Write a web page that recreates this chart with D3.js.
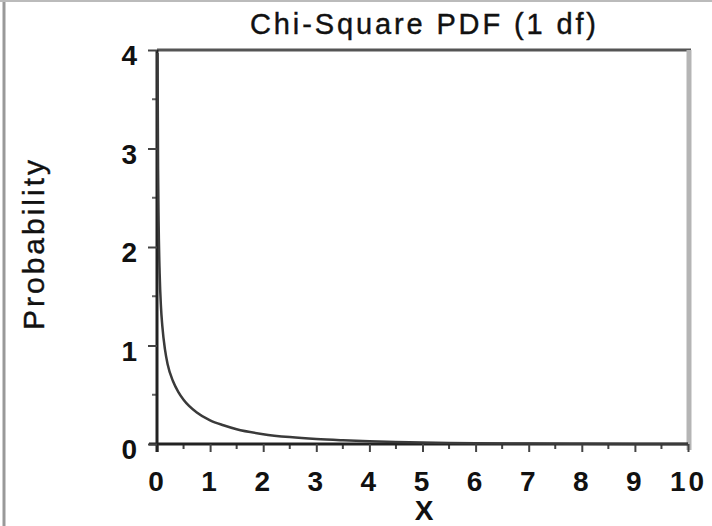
<!DOCTYPE html>
<html>
<head>
<meta charset="utf-8">
<script src="https://cdn.jsdelivr.net/npm/d3@7"></script>
<style>
  body { margin: 0; background: #fff; }
  svg { display: block; font-family: "Liberation Sans", Arial, sans-serif; }
</style>
</head>
<body>
<svg id="chart" width="712" height="526"></svg>
<script>
// values
const xValues = [0.01, 0.02, 0.03, 0.05, 0.075, 0.1, 0.15, 0.2, 0.3, 0.4, 0.5, 0.75, 1, 1.25, 1.5, 2, 2.5, 3, 3.5, 4, 4.5, 5, 5.5, 6, 7, 8, 9, 10];
const yValues = [3.97, 2.8, 2.27, 1.73, 1.39, 1.2, 0.96, 0.81, 0.64, 0.53, 0.45, 0.32, 0.24, 0.19, 0.15, 0.10, 0.07, 0.05, 0.037, 0.027, 0.02, 0.015, 0.011, 0.008, 0.004, 0.002, 0.001, 0.0009];
const xTicks = [0, 1, 2, 3, 4, 5, 6, 7, 8, 9, 10];
const yTicks = [0, 1, 2, 3, 4];
const titleText = "Chi-Square PDF (1 df)";
const xLabel = "X";
const yLabel = "Probability";

const svg = d3.select("#chart");
const plotLeft = 157, plotRight = 688, plotTop = 50, plotBottom = 444;

const x = d3.scaleLinear().domain([0, 10]).range([plotLeft, plotRight]);
const y = d3.scaleLinear().domain([0, 4]).range([plotBottom, plotTop]);

// outer border of the figure
svg.append("line").attr("x1", 4).attr("x2", 4).attr("y1", 0).attr("y2", 526)
   .attr("stroke", "#999").attr("stroke-width", 3);
svg.append("line").attr("x1", 0).attr("x2", 712).attr("y1", 1).attr("y2", 1)
   .attr("stroke", "#bbb").attr("stroke-width", 2);

// frame: top and right
svg.append("line").attr("x1", plotLeft).attr("x2", plotRight + 3).attr("y1", plotTop).attr("y2", plotTop)
   .attr("stroke", "#555").attr("stroke-width", 3);
svg.append("line").attr("x1", plotRight + 1).attr("x2", plotRight + 1).attr("y1", plotTop).attr("y2", plotBottom + 6)
   .attr("stroke", "#b5b5b5").attr("stroke-width", 5);

// minor ticks (halves)
const xMinor = d3.range(0.5, 10, 1);
const yMinor = d3.range(0.5, 4, 1);
svg.selectAll(".xminor").data(xMinor).join("line")
   .attr("x1", d => x(d)).attr("x2", d => x(d))
   .attr("y1", plotBottom).attr("y2", plotBottom + 5)
   .attr("stroke", "#444").attr("stroke-width", 2);
svg.selectAll(".yminor").data(yMinor).join("line")
   .attr("x1", plotLeft - 5).attr("x2", plotLeft)
   .attr("y1", d => y(d)).attr("y2", d => y(d))
   .attr("stroke", "#666").attr("stroke-width", 2);

// axes
const xAxis = svg.append("g").attr("transform", `translate(0,${plotBottom})`)
   .call(d3.axisBottom(x).tickValues(xTicks).tickFormat(d3.format("d"))
     .tickSize(8).tickPadding(19).tickSizeOuter(0));
const yAxis = svg.append("g").attr("transform", `translate(${plotLeft},0)`)
   .call(d3.axisLeft(y).tickValues(yTicks).tickFormat(d3.format("d"))
     .tickSize(9).tickPadding(11).tickSizeOuter(0));

[xAxis, yAxis].forEach(g => {
  g.select(".domain").attr("stroke", "#222").attr("stroke-width", 3);
  g.selectAll(".tick line").attr("stroke", "#444").attr("stroke-width", 2);
  g.selectAll("text").attr("font-size", 28).attr("font-weight", "bold")
   .attr("fill", "#111").attr("font-family", "Liberation Sans, Arial, sans-serif");
});
xAxis.selectAll("text").attr("letter-spacing", 3);
yAxis.selectAll(".tick text").attr("y", 6);
xAxis.select(".domain").attr("d", `M${plotLeft - 8},0H${plotRight}`);
yAxis.select(".domain").attr("d", `M0,${plotTop}V${plotBottom + 8}`);

// the curve
const line = d3.line().x(d => x(d[0])).y(d => y(d[1])).curve(d3.curveMonotoneX);
svg.append("path")
   .datum(xValues.map((v, i) => [v, yValues[i]]))
   .attr("d", line)
   .attr("fill", "none")
   .attr("stroke", "#3a3a3a")
   .attr("stroke-width", 2.5);

// titles
svg.append("text").attr("x", 250).attr("y", 34)
   .attr("textLength", 346).attr("lengthAdjust", "spacing")
   .attr("font-size", 29).attr("fill", "#111").attr("stroke", "#111").attr("stroke-width", 0.4)
   .text(titleText);
svg.append("text").attr("x", 424).attr("y", 520).attr("text-anchor", "middle")
   .attr("font-size", 28).attr("font-weight", "bold").attr("fill", "#111").text(xLabel);
svg.append("text").attr("transform", "translate(44,330) rotate(-90)")
   .attr("textLength", 170).attr("lengthAdjust", "spacing")
   .attr("font-size", 30).attr("fill", "#111").attr("stroke", "#111").attr("stroke-width", 0.4)
   .text(yLabel);
</script>
</body>
</html>
